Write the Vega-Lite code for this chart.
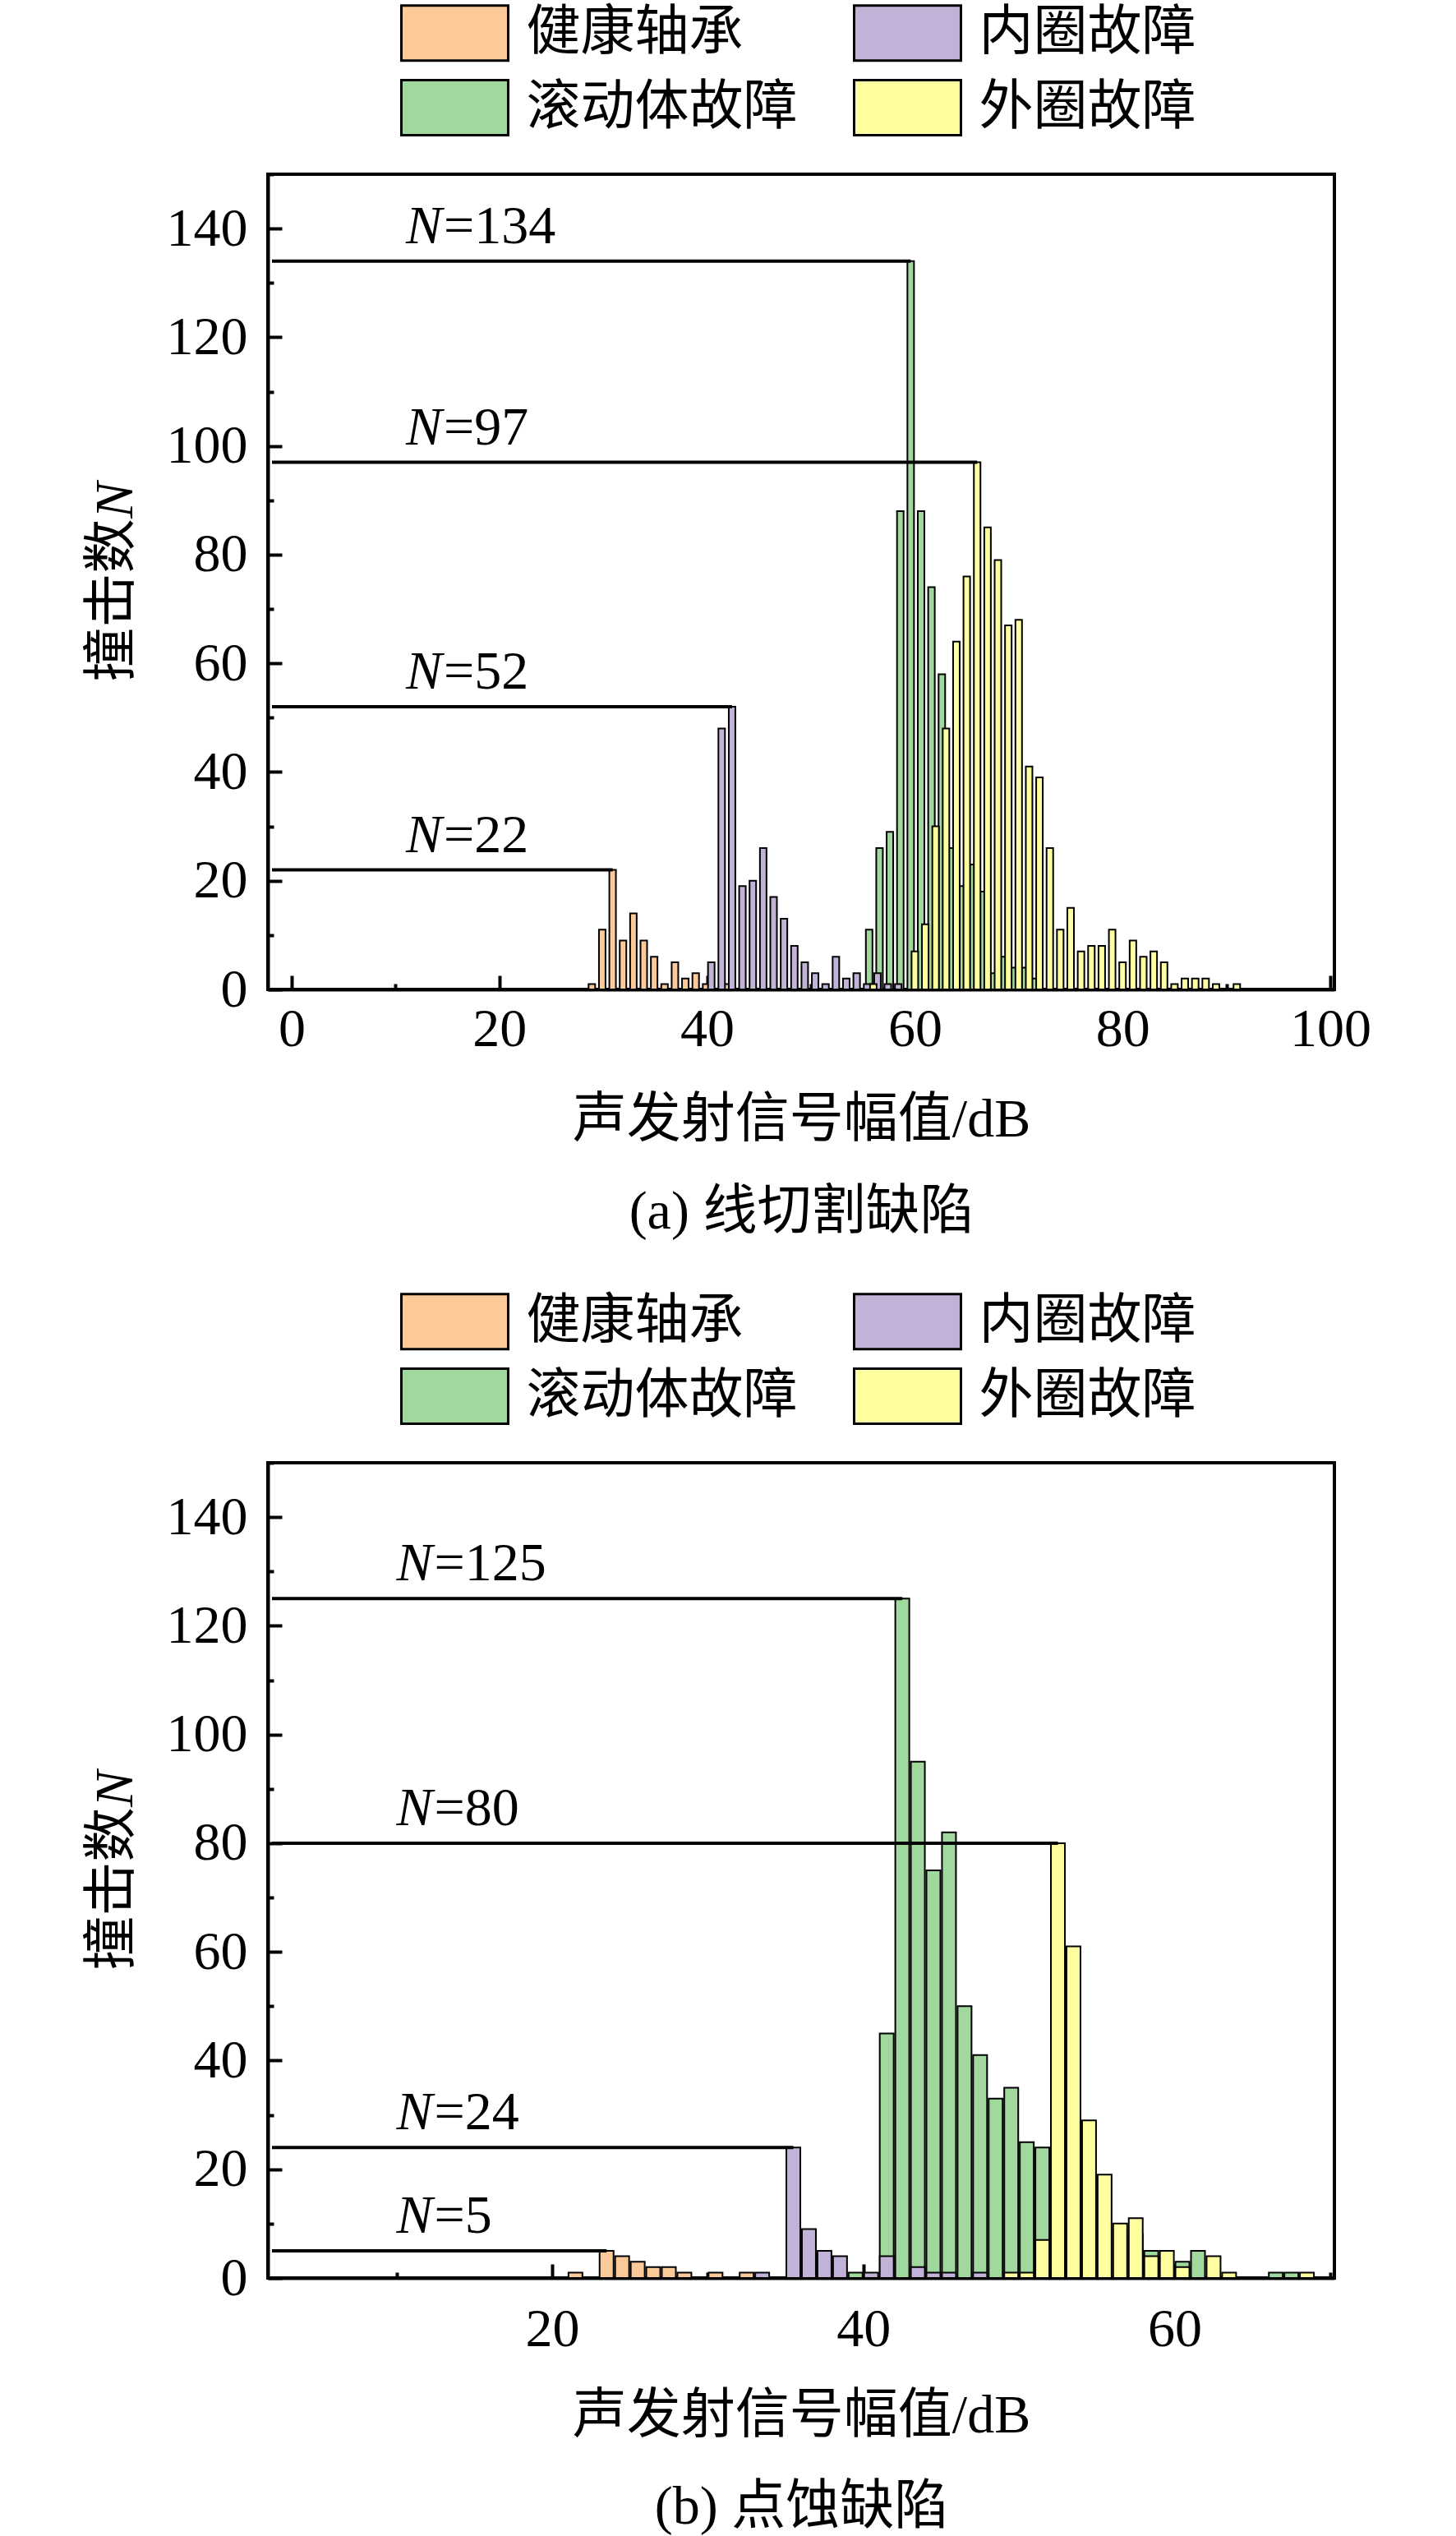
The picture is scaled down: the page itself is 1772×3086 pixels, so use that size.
{
  "$schema": "https://vega.github.io/schema/vega-lite/v6.json",
  "background": "white",
  "padding": {"left": 101, "top": 3, "right": 148, "bottom": 10},
  "bounds": "flush",
  "spacing": 576,
  "resolve": {"legend": {"color": "independent"}},
  "config": {
    "font": "Liberation Serif, Noto Sans CJK SC",
    "view": {"stroke": "black", "strokeWidth": 4},
    "axis": {
      "grid": false,
      "domainColor": "black",
      "domainWidth": 4,
      "tickColor": "black",
      "tickWidth": 4,
      "labelFont": "Liberation Serif",
      "labelFontSize": 66,
      "labelColor": "black",
      "labelFlush": false,
      "labelOverlap": false,
      "titleFont": "Liberation Serif, Noto Sans CJK SC",
      "titleFontSize": 66,
      "titleFontWeight": "normal",
      "titleColor": "black"
    },
    "legend": {
      "orient": "none",
      "legendX": 161,
      "legendY": -207,
      "columns": 2,
      "padding": 0,
      "symbolType": "M-1.94,-1H1.94V1H-1.94Z",
      "symbolSize": 4489,
      "symbolOffset": 31.5,
      "symbolStrokeColor": "black",
      "symbolStrokeWidth": 3,
      "symbolOpacity": 1,
      "labelFont": "Liberation Serif, Noto Sans CJK SC",
      "labelFontSize": 66,
      "labelColor": "black",
      "labelLimit": 1000,
      "labelOffset": 52,
      "columnPadding": 62,
      "rowPadding": 11
    }
  },
  "datasets": {
    "a": [
      {"s": "滚动体故障", "x": 55.6, "n": 11},
      {"s": "滚动体故障", "x": 56.6, "n": 26},
      {"s": "滚动体故障", "x": 57.6, "n": 29},
      {"s": "滚动体故障", "x": 58.6, "n": 88},
      {"s": "滚动体故障", "x": 59.6, "n": 134},
      {"s": "滚动体故障", "x": 60.6, "n": 88},
      {"s": "滚动体故障", "x": 61.6, "n": 74},
      {"s": "滚动体故障", "x": 62.6, "n": 58},
      {"s": "滚动体故障", "x": 63.6, "n": 26},
      {"s": "滚动体故障", "x": 64.6, "n": 19},
      {"s": "滚动体故障", "x": 65.6, "n": 23},
      {"s": "滚动体故障", "x": 66.6, "n": 18},
      {"s": "滚动体故障", "x": 67.6, "n": 3},
      {"s": "滚动体故障", "x": 68.6, "n": 6},
      {"s": "滚动体故障", "x": 69.6, "n": 4},
      {"s": "滚动体故障", "x": 70.6, "n": 4},
      {"s": "滚动体故障", "x": 71.6, "n": 2},
      {"s": "健康轴承", "x": 28.9, "n": 1},
      {"s": "健康轴承", "x": 29.9, "n": 11},
      {"s": "健康轴承", "x": 30.9, "n": 22},
      {"s": "健康轴承", "x": 31.9, "n": 9},
      {"s": "健康轴承", "x": 32.9, "n": 14},
      {"s": "健康轴承", "x": 33.9, "n": 9},
      {"s": "健康轴承", "x": 34.9, "n": 6},
      {"s": "健康轴承", "x": 35.9, "n": 1},
      {"s": "健康轴承", "x": 36.9, "n": 5},
      {"s": "健康轴承", "x": 37.9, "n": 2},
      {"s": "健康轴承", "x": 38.9, "n": 3},
      {"s": "健康轴承", "x": 39.9, "n": 1},
      {"s": "健康轴承", "x": 41.9, "n": 1},
      {"s": "内圈故障", "x": 40.4, "n": 5},
      {"s": "内圈故障", "x": 41.4, "n": 48},
      {"s": "内圈故障", "x": 42.4, "n": 52},
      {"s": "内圈故障", "x": 43.4, "n": 19},
      {"s": "内圈故障", "x": 44.4, "n": 20},
      {"s": "内圈故障", "x": 45.4, "n": 26},
      {"s": "内圈故障", "x": 46.4, "n": 17},
      {"s": "内圈故障", "x": 47.4, "n": 13},
      {"s": "内圈故障", "x": 48.4, "n": 8},
      {"s": "内圈故障", "x": 49.4, "n": 5},
      {"s": "内圈故障", "x": 50.4, "n": 3},
      {"s": "内圈故障", "x": 51.4, "n": 1},
      {"s": "内圈故障", "x": 52.4, "n": 6},
      {"s": "内圈故障", "x": 53.4, "n": 2},
      {"s": "内圈故障", "x": 54.4, "n": 3},
      {"s": "内圈故障", "x": 55.4, "n": 1},
      {"s": "内圈故障", "x": 56.4, "n": 3},
      {"s": "内圈故障", "x": 57.4, "n": 1},
      {"s": "内圈故障", "x": 58.4, "n": 1},
      {"s": "外圈故障", "x": 56, "n": 1},
      {"s": "外圈故障", "x": 60, "n": 7},
      {"s": "外圈故障", "x": 61, "n": 12},
      {"s": "外圈故障", "x": 62, "n": 30},
      {"s": "外圈故障", "x": 63, "n": 48},
      {"s": "外圈故障", "x": 64, "n": 64},
      {"s": "外圈故障", "x": 65, "n": 76},
      {"s": "外圈故障", "x": 66, "n": 97},
      {"s": "外圈故障", "x": 67, "n": 85},
      {"s": "外圈故障", "x": 68, "n": 79},
      {"s": "外圈故障", "x": 69, "n": 67},
      {"s": "外圈故障", "x": 70, "n": 68},
      {"s": "外圈故障", "x": 71, "n": 41},
      {"s": "外圈故障", "x": 72, "n": 39},
      {"s": "外圈故障", "x": 73, "n": 26},
      {"s": "外圈故障", "x": 74, "n": 11},
      {"s": "外圈故障", "x": 75, "n": 15},
      {"s": "外圈故障", "x": 76, "n": 7},
      {"s": "外圈故障", "x": 77, "n": 8},
      {"s": "外圈故障", "x": 78, "n": 8},
      {"s": "外圈故障", "x": 79, "n": 11},
      {"s": "外圈故障", "x": 80, "n": 5},
      {"s": "外圈故障", "x": 81, "n": 9},
      {"s": "外圈故障", "x": 82, "n": 6},
      {"s": "外圈故障", "x": 83, "n": 7},
      {"s": "外圈故障", "x": 84, "n": 5},
      {"s": "外圈故障", "x": 85, "n": 1},
      {"s": "外圈故障", "x": 86, "n": 2},
      {"s": "外圈故障", "x": 87, "n": 2},
      {"s": "外圈故障", "x": 88, "n": 2},
      {"s": "外圈故障", "x": 89, "n": 1},
      {"s": "外圈故障", "x": 91, "n": 1}
    ],
    "b": [
      {"s": "滚动体故障", "x": 39.5, "n": 1},
      {"s": "滚动体故障", "x": 41.5, "n": 45},
      {"s": "滚动体故障", "x": 42.5, "n": 125},
      {"s": "滚动体故障", "x": 43.5, "n": 95},
      {"s": "滚动体故障", "x": 44.5, "n": 75},
      {"s": "滚动体故障", "x": 45.5, "n": 82},
      {"s": "滚动体故障", "x": 46.5, "n": 50},
      {"s": "滚动体故障", "x": 47.5, "n": 41},
      {"s": "滚动体故障", "x": 48.5, "n": 33},
      {"s": "滚动体故障", "x": 49.5, "n": 35},
      {"s": "滚动体故障", "x": 50.5, "n": 25},
      {"s": "滚动体故障", "x": 51.5, "n": 24},
      {"s": "滚动体故障", "x": 57.5, "n": 8},
      {"s": "滚动体故障", "x": 58.5, "n": 5},
      {"s": "滚动体故障", "x": 60.5, "n": 3},
      {"s": "滚动体故障", "x": 61.5, "n": 5},
      {"s": "滚动体故障", "x": 66.5, "n": 1},
      {"s": "滚动体故障", "x": 67.5, "n": 1},
      {"s": "健康轴承", "x": 21.5, "n": 1},
      {"s": "健康轴承", "x": 23.5, "n": 5},
      {"s": "健康轴承", "x": 24.5, "n": 4},
      {"s": "健康轴承", "x": 25.5, "n": 3},
      {"s": "健康轴承", "x": 26.5, "n": 2},
      {"s": "健康轴承", "x": 27.5, "n": 2},
      {"s": "健康轴承", "x": 28.5, "n": 1},
      {"s": "健康轴承", "x": 30.5, "n": 1},
      {"s": "健康轴承", "x": 32.5, "n": 1},
      {"s": "内圈故障", "x": 33.5, "n": 1},
      {"s": "内圈故障", "x": 35.5, "n": 24},
      {"s": "内圈故障", "x": 36.5, "n": 9},
      {"s": "内圈故障", "x": 37.5, "n": 5},
      {"s": "内圈故障", "x": 38.5, "n": 4},
      {"s": "内圈故障", "x": 40.5, "n": 1},
      {"s": "内圈故障", "x": 41.5, "n": 4},
      {"s": "内圈故障", "x": 43.5, "n": 2},
      {"s": "内圈故障", "x": 44.5, "n": 1},
      {"s": "内圈故障", "x": 45.5, "n": 1},
      {"s": "内圈故障", "x": 47.5, "n": 1},
      {"s": "外圈故障", "x": 49.5, "n": 1},
      {"s": "外圈故障", "x": 50.5, "n": 1},
      {"s": "外圈故障", "x": 51.5, "n": 7},
      {"s": "外圈故障", "x": 52.5, "n": 80},
      {"s": "外圈故障", "x": 53.5, "n": 61},
      {"s": "外圈故障", "x": 54.5, "n": 29},
      {"s": "外圈故障", "x": 55.5, "n": 19},
      {"s": "外圈故障", "x": 56.5, "n": 10},
      {"s": "外圈故障", "x": 57.5, "n": 11},
      {"s": "外圈故障", "x": 58.5, "n": 4},
      {"s": "外圈故障", "x": 59.5, "n": 5},
      {"s": "外圈故障", "x": 60.5, "n": 2},
      {"s": "外圈故障", "x": 62.5, "n": 4},
      {"s": "外圈故障", "x": 63.5, "n": 1},
      {"s": "外圈故障", "x": 68.5, "n": 1}
    ],
    "la": [
      {"x": 59.6, "n": 134, "t": "=134"},
      {"x": 66, "n": 97, "t": "=97"},
      {"x": 42.4, "n": 52, "t": "=52"},
      {"x": 30.9, "n": 22, "t": "=22"}
    ],
    "lb": [
      {"x": 42.5, "n": 125, "t": "=125"},
      {"x": 52.5, "n": 80, "t": "=80"},
      {"x": 35.5, "n": 24, "t": "=24"},
      {"x": 23.5, "n": 5, "t": "=5"}
    ],
    "one": [{"k": 1}]
  },
  "vconcat": [
    {
      "width": 1298,
      "height": 992,
      "layer": [
        {
          "data": {"name": "a"},
          "mark": {"type": "bar", "size": 8, "stroke": "black", "strokeWidth": 2},
          "encoding": {
            "x": {
              "field": "x",
              "type": "quantitative",
              "scale": {"domain": [-1.9, 100], "nice": false, "zero": false},
              "axis": {
                "values": [0, 10, 20, 30, 40, 50, 60, 70, 80, 90, 100],
                "labelExpr": "datum.value % 20 === 0 ? datum.label : ''",
                "tickSize": {"condition": {"test": "datum.value % 20 === 0", "value": -17}, "value": -7},
                "labelPadding": 33,
                "title": ["声发射信号幅值/dB", "(a) 线切割缺陷"],
                "titleX": 649,
                "titleY": 178,
                "titleAlign": "center",
                "titleBaseline": "alphabetic",
                "titleLineHeight": 112
              }
            },
            "y": {
              "field": "n",
              "type": "quantitative",
              "stack": null,
              "scale": {"domain": [0, 150], "nice": false},
              "axis": {
                "values": [0, 10, 20, 30, 40, 50, 60, 70, 80, 90, 100, 110, 120, 130, 140, 150],
                "labelExpr": "datum.value % 20 === 0 ? datum.label : ''",
                "tickSize": {"condition": {"test": "datum.value % 20 === 0", "value": -17}, "value": -7},
                "labelPadding": 42,
                "title": "撞击数",
                "titleX": -190,
                "titleY": 518,
                "titleAngle": 270,
                "titleAlign": "center",
                "titleBaseline": "middle"
              }
            },
            "color": {
              "field": "s",
              "type": "nominal",
              "scale": {
                "domain": ["健康轴承", "滚动体故障", "内圈故障", "外圈故障"],
                "range": ["#FCC998", "#A0D89E", "#C1B2D8", "#FFFFA0"]
              },
              "legend": {"title": null}
            }
          }
        },
        {
          "data": {"name": "la"},
          "mark": {"type": "rule", "color": "black", "strokeWidth": 4},
          "encoding": {
            "x": {"field": "x", "type": "quantitative"},
            "x2": {"datum": -1.9},
            "y": {"field": "n", "type": "quantitative"}
          }
        },
        {
          "data": {"name": "la"},
          "mark": {"type": "text", "text": "N", "font": "Liberation Serif", "fontStyle": "italic", "fontSize": 66, "align": "left", "baseline": "alphabetic", "dy": -22},
          "encoding": {
            "x": {"datum": 11.0, "type": "quantitative"},
            "y": {"field": "n", "type": "quantitative"}
          }
        },
        {
          "data": {"name": "la"},
          "mark": {"type": "text", "font": "Liberation Serif", "fontSize": 66, "align": "left", "baseline": "alphabetic", "dx": 46, "dy": -22},
          "encoding": {
            "x": {"datum": 11.0, "type": "quantitative"},
            "y": {"field": "n", "type": "quantitative"},
            "text": {"field": "t", "type": "nominal"}
          }
        },
        {
          "data": {"name": "one"},
          "mark": {"type": "text", "text": "N", "font": "Liberation Serif", "fontStyle": "italic", "fontSize": 66, "angle": 270, "align": "center", "baseline": "middle", "dy": -190},
          "encoding": {
            "x": {"datum": -1.9, "type": "quantitative"},
            "y": {"datum": 90, "type": "quantitative"}
          }
        }
      ]
    },
    {
      "width": 1298,
      "height": 992,
      "layer": [
        {
          "data": {"name": "b"},
          "mark": {"type": "bar", "size": 17, "stroke": "black", "strokeWidth": 2},
          "encoding": {
            "x": {
              "field": "x",
              "type": "quantitative",
              "scale": {"domain": [2, 70], "nice": false, "zero": false},
              "axis": {
                "values": [10, 20, 30, 40, 50, 60, 70],
                "labelExpr": "datum.value % 20 === 0 ? datum.label : ''",
                "tickSize": {"condition": {"test": "datum.value % 20 === 0", "value": -17}, "value": -7},
                "labelPadding": 47,
                "title": ["声发射信号幅值/dB", "(b) 点蚀缺陷"],
                "titleX": 649,
                "titleY": 187,
                "titleAlign": "center",
                "titleBaseline": "alphabetic",
                "titleLineHeight": 111
              }
            },
            "y": {
              "field": "n",
              "type": "quantitative",
              "stack": null,
              "scale": {"domain": [0, 150], "nice": false},
              "axis": {
                "values": [0, 10, 20, 30, 40, 50, 60, 70, 80, 90, 100, 110, 120, 130, 140, 150],
                "labelExpr": "datum.value % 20 === 0 ? datum.label : ''",
                "tickSize": {"condition": {"test": "datum.value % 20 === 0", "value": -17}, "value": -7},
                "labelPadding": 42,
                "title": "撞击数",
                "titleX": -190,
                "titleY": 518,
                "titleAngle": 270,
                "titleAlign": "center",
                "titleBaseline": "middle"
              }
            },
            "color": {
              "field": "s",
              "type": "nominal",
              "scale": {
                "domain": ["健康轴承", "滚动体故障", "内圈故障", "外圈故障"],
                "range": ["#FCC998", "#A0D89E", "#C1B2D8", "#FFFFA0"]
              },
              "legend": {"title": null}
            }
          }
        },
        {
          "data": {"name": "lb"},
          "mark": {"type": "rule", "color": "black", "strokeWidth": 4},
          "encoding": {
            "x": {"field": "x", "type": "quantitative"},
            "x2": {"datum": 2},
            "y": {"field": "n", "type": "quantitative"}
          }
        },
        {
          "data": {"name": "lb"},
          "mark": {"type": "text", "text": "N", "font": "Liberation Serif", "fontStyle": "italic", "fontSize": 66, "align": "left", "baseline": "alphabetic", "dy": -22},
          "encoding": {
            "x": {"datum": 10.0, "type": "quantitative"},
            "y": {"field": "n", "type": "quantitative"}
          }
        },
        {
          "data": {"name": "lb"},
          "mark": {"type": "text", "font": "Liberation Serif", "fontSize": 66, "align": "left", "baseline": "alphabetic", "dx": 46, "dy": -22},
          "encoding": {
            "x": {"datum": 10.0, "type": "quantitative"},
            "y": {"field": "n", "type": "quantitative"},
            "text": {"field": "t", "type": "nominal"}
          }
        },
        {
          "data": {"name": "one"},
          "mark": {"type": "text", "text": "N", "font": "Liberation Serif", "fontStyle": "italic", "fontSize": 66, "angle": 270, "align": "center", "baseline": "middle", "dy": -190},
          "encoding": {
            "x": {"datum": 2, "type": "quantitative"},
            "y": {"datum": 90, "type": "quantitative"}
          }
        }
      ]
    }
  ]
}
